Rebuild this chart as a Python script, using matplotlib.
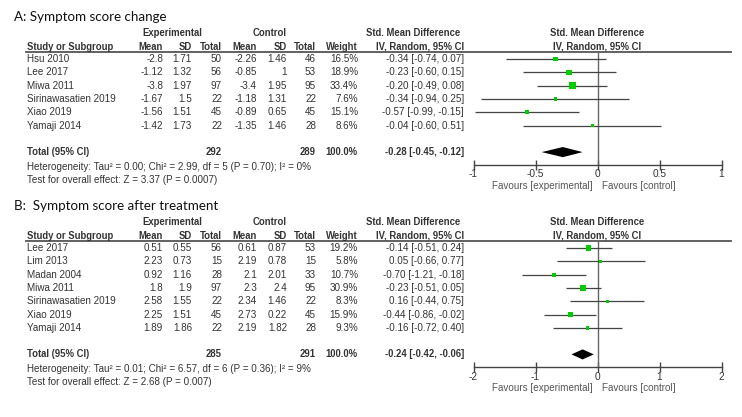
import matplotlib
matplotlib.use("Agg")
import matplotlib.pyplot as plt

# ---- panel A: symptom score change ----
studies_a = ["Hsu 2010", "Lee 2017", "Miwa 2011", "Sirinawasatien 2019", "Xiao 2019", "Yamaji 2014"]
exp_mean_a = [-2.8, -1.12, -3.8, -1.67, -1.56, -1.42]
exp_sd_a = [1.71, 1.32, 1.97, 1.5, 1.51, 1.73]
exp_n_a = [50, 56, 97, 22, 45, 22]
ctl_mean_a = [-2.26, -0.85, -3.4, -1.18, -0.89, -1.35]
ctl_sd_a = [1.46, 1, 1.95, 1.31, 0.65, 1.46]
ctl_n_a = [46, 53, 95, 22, 45, 28]
weight_a = [16.5, 18.9, 33.4, 7.6, 15.1, 8.6]
smd_a = [-0.34, -0.23, -0.20, -0.34, -0.57, -0.04]
lo_a = [-0.74, -0.60, -0.49, -0.94, -0.99, -0.60]
hi_a = [0.07, 0.15, 0.08, 0.25, -0.15, 0.51]
total_a = (292, 289, -0.28, -0.45, -0.12)
het_a = "Heterogeneity: Tau² = 0.00; Chi² = 2.99, df = 5 (P = 0.70); I² = 0%"
test_a = "Test for overall effect: Z = 3.37 (P = 0.0007)"
ticks_a = [-1, -0.5, 0, 0.5, 1]

# ---- panel B: symptom score after treatment ----
studies_b = ["Lee 2017", "Lim 2013", "Madan 2004", "Miwa 2011", "Sirinawasatien 2019", "Xiao 2019", "Yamaji 2014"]
exp_mean_b = [0.51, 2.23, 0.92, 1.8, 2.58, 2.25, 1.89]
exp_sd_b = [0.55, 0.73, 1.16, 1.9, 1.55, 1.51, 1.86]
exp_n_b = [56, 15, 28, 97, 22, 45, 22]
ctl_mean_b = [0.61, 2.19, 2.1, 2.3, 2.34, 2.73, 2.19]
ctl_sd_b = [0.87, 0.78, 2.01, 2.4, 1.46, 0.22, 1.82]
ctl_n_b = [53, 15, 33, 95, 22, 45, 28]
weight_b = [19.2, 5.8, 10.7, 30.9, 8.3, 15.9, 9.3]
smd_b = [-0.14, 0.05, -0.70, -0.23, 0.16, -0.44, -0.16]
lo_b = [-0.51, -0.66, -1.21, -0.51, -0.44, -0.86, -0.72]
hi_b = [0.24, 0.77, -0.18, 0.05, 0.75, -0.02, 0.40]
total_b = (285, 291, -0.24, -0.42, -0.06)
het_b = "Heterogeneity: Tau² = 0.01; Chi² = 6.57, df = 6 (P = 0.36); I² = 9%"
test_b = "Test for overall effect: Z = 2.68 (P = 0.007)"
ticks_b = [-2, -1, 0, 1, 2]

W, H = 742, 417
TXT = "#333333"
FS = 7.1      # regular table text
FSB = 6.85    # bold header text
plt.rcParams["font.family"] = ["Liberation Sans", "DejaVu Sans"]

fig = plt.figure(figsize=(W / 100, H / 100), dpi=100)
bg = fig.add_axes([0, 0, 1, 1])
bg.set_xlim(0, W)
bg.set_ylim(H, 0)
bg.axis("off")


def t(x, y, s, ha="left", bold=False, color=TXT, size=None):
    if size is None:
        size = FSB if bold else FS
    return bg.text(x, y, s, ha=ha, va="center", fontsize=size, color=color,
                   fontweight="bold" if bold else "normal")


def fmt(v):
    return f"{v:g}"


def panel(title, top, studies, em, esd, en, cm, csd, cn, wt, smd, lo, hi, tot,
          het, test, ticks, xmax):
    # top = y pixel of first header line
    tt = t(14, top - 16, title, size=9.6, color="#111111")
    tt.set_family(["Lato", "DejaVu Sans"])
    h1, h2 = top, top + 14
    line_y = h2 + 5.5
    row0 = line_y + 7
    step = 13.3
    n = len(studies)
    t(172, h1, "Experimental", ha="center", bold=True)
    t(270, h1, "Control", ha="center", bold=True)
    t(413, h1, "Std. Mean Difference", ha="center", bold=True)
    t(597, h1, "Std. Mean Difference", ha="center", bold=True)
    t(27, h2, "Study or Subgroup", bold=True)
    for x, s in zip([163, 192, 222, 257, 287, 316, 358],
                    ["Mean", "SD", "Total", "Mean", "SD", "Total", "Weight"]):
        t(x, h2, s, ha="right", bold=True)
    t(420, h2, "IV, Random, 95% CI", ha="center", bold=True)
    t(597, h2, "IV, Random, 95% CI", ha="center", bold=True)
    bg.plot([26, 731], [line_y, line_y], color="#555555", lw=1.3)

    for i in range(n):
        y = row0 + i * step
        t(27, y, studies[i])
        vals = [fmt(em[i]), fmt(esd[i]), str(en[i]), fmt(cm[i]), fmt(csd[i]),
                str(cn[i]), f"{wt[i]:.1f}%"]
        for x, s in zip([163, 192, 222, 257, 287, 316, 358], vals):
            t(x, y, s, ha="right")
        t(464, y, f"{smd[i]:.2f} [{lo[i]:.2f}, {hi[i]:.2f}]", ha="right")
    ty = row0 + (n + 1) * step
    t(27, ty, "Total (95% CI)", bold=True)
    t(222, ty, str(tot[0]), ha="right", bold=True)
    t(316, ty, str(tot[1]), ha="right", bold=True)
    t(358, ty, "100.0%", ha="right", bold=True)
    t(464, ty, f"{tot[2]:.2f} [{tot[3]:.2f}, {tot[4]:.2f}]", ha="right", bold=True)
    t(27, ty + 14.5, het)
    t(27, ty + 28, test)

    # forest axes
    axis_y = ty + 12.5
    x0, x1 = 473.5, 721.5
    ax = fig.add_axes([x0 / W, 1 - axis_y / H, (x1 - x0) / W, (axis_y - line_y) / H])
    ax.set_xlim(-xmax, xmax)
    ax.set_ylim((axis_y - row0) / step, (line_y - row0) / step)
    ax.patch.set_alpha(0)
    for s in ["top", "left", "right"]:
        ax.spines[s].set_visible(False)
    ax.spines["bottom"].set_color("#444444")
    ax.spines["bottom"].set_linewidth(1.0)
    ax.set_yticks([])
    ax.set_xticks(ticks)
    ax.set_xticklabels([fmt(v) for v in ticks])
    ax.tick_params(axis="x", direction="inout", length=7, width=1.0, color="#444444",
                   labelsize=FS + 0.2, labelcolor="#333333", pad=0)
    ax.axvline(0, color="#666666", lw=1.0)
    rows = list(range(n))
    ax.hlines(rows, lo, hi, color="#444444", lw=0.9)
    ax.scatter(smd, rows, marker="s", s=[w * 0.7 for w in wt], color="#00cc00",
               linewidths=0, zorder=3)
    r = n + 1
    ax.fill([tot[3], tot[2], tot[4], tot[2]], [r, r - 0.38, r, r + 0.38],
            color="black", lw=0)
    t(592.5, axis_y + 21, "Favours [experimental]", ha="right", color="#555555")
    t(602, axis_y + 21, "Favours [control]", color="#555555")


panel("A: Symptom score change", 32.5, studies_a, exp_mean_a, exp_sd_a, exp_n_a,
      ctl_mean_a, ctl_sd_a, ctl_n_a, weight_a, smd_a, lo_a, hi_a, total_a,
      het_a, test_a, ticks_a, 1)
panel("B:  Symptom score after treatment", 221.5, studies_b, exp_mean_b, exp_sd_b, exp_n_b,
      ctl_mean_b, ctl_sd_b, ctl_n_b, weight_b, smd_b, lo_b, hi_b, total_b,
      het_b, test_b, ticks_b, 2)

fig.savefig("out.png", dpi=100)
